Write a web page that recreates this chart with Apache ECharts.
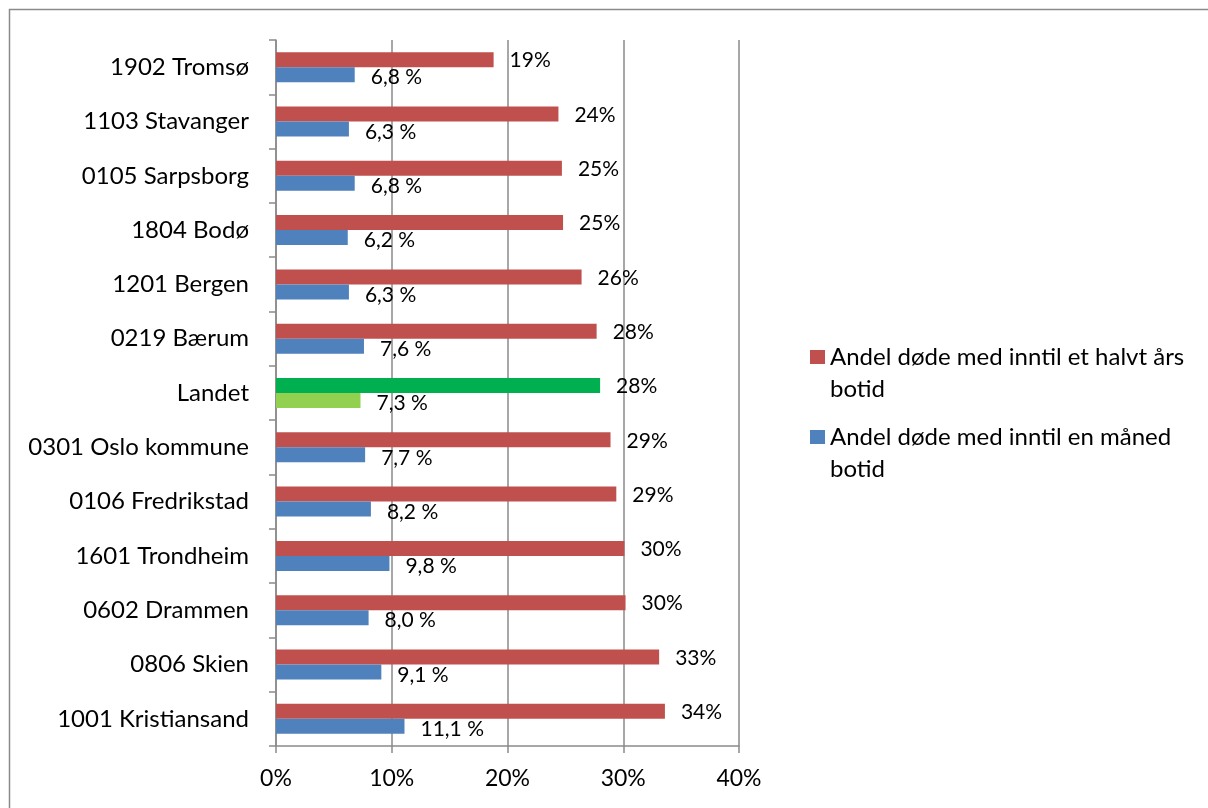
<!DOCTYPE html>
<html>
<head>
<meta charset="utf-8">
<script src="https://cdn.jsdelivr.net/npm/echarts/dist/echarts.min.js"></script>
<style>
  html, body { margin: 0; padding: 0; background: #fff; }
  #chart { width: 1208px; height: 808px; }
</style>
</head>
<body>
<div id="chart"></div>
<script>
// Municipalities, listed top to bottom
const categories = [
  '1902 Tromsø', '1103 Stavanger', '0105 Sarpsborg', '1804 Bodø',
  '1201 Bergen', '0219 Bærum', 'Landet', '0301 Oslo kommune',
  '0106 Fredrikstad', '1601 Trondheim', '0602 Drammen', '0806 Skien',
  '1001 Kristiansand'
];

// Share of deaths with up to half a year of residence (%)
const halfYearShare = [18.8, 24.4, 24.7, 24.8, 26.4, 27.7, 28.0, 28.9, 29.4, 30.1, 30.2, 33.1, 33.6];

// Share of deaths with up to one month of residence (%)
const oneMonthShare = [6.8, 6.3, 6.8, 6.2, 6.3, 7.6, 7.3, 7.7, 8.2, 9.8, 8.0, 9.1, 11.1];

const seriesNames = [
  'Andel døde med inntil et halvt års botid',
  'Andel døde med inntil en måned botid'
];

const xTicks = [0, 10, 20, 30, 40];

const RED = '#C0504D', BLUE = '#4F81BD';
const NATIONAL_DARK = '#00B050', NATIONAL_LIGHT = '#92D050';
const FONT = 'Lato';
const GRAY = '#8a8a8a';

function colored(values, base, national) {
  return values.map((v, i) => categories[i] === 'Landet'
    ? { value: v, itemStyle: { color: national } }
    : v);
}

// Square legend marker sitting in the upper part of a taller box,
// so it lines up with the first line of a wrapped legend label
const legendIcon = 'path://M0,0h15v14h-15Z M0,46 L0,46';

const chart = echarts.init(document.getElementById('chart'), null, { renderer: 'canvas' });

chart.setOption({
  animation: false,
  backgroundColor: '#fff',
  textStyle: { fontFamily: FONT, color: '#000' },
  graphic: [{
    type: 'rect',
    shape: { x: 9.5, y: 9.5, width: 1400, height: 1000 },
    style: { fill: 'none', stroke: GRAY, lineWidth: 1.5 },
    silent: true
  }],
  grid: { left: 276, right: 469, top: 40, bottom: 62, containLabel: false },
  legend: {
    orient: 'vertical',
    left: 805,
    top: 336,
    itemWidth: 15,
    itemHeight: 46,
    itemGap: 16,
    icon: legendIcon,
    data: seriesNames,
    formatter: name => name.replace(' botid', '\nbotid'),
    textStyle: { fontFamily: FONT, fontSize: 24, lineHeight: 32, color: '#000', padding: [0, 0, 0, 0] }
  },
  xAxis: {
    type: 'value',
    min: xTicks[0],
    max: xTicks[xTicks.length - 1],
    interval: 10,
    axisLine: { show: true, lineStyle: { color: GRAY, width: 1.5 } },
    axisTick: { show: true, length: 7, lineStyle: { color: GRAY, width: 1.5 } },
    splitLine: { show: true, lineStyle: { color: GRAY, width: 1.5 } },
    axisLabel: {
      formatter: v => v + '%',
      fontFamily: FONT, fontSize: 23, color: '#000', margin: 21
    }
  },
  yAxis: {
    type: 'category',
    data: categories,
    inverse: true,
    axisLine: { show: true, lineStyle: { color: GRAY, width: 1.5 } },
    axisTick: { show: true, length: 7, lineStyle: { color: GRAY, width: 1.5 } },
    axisLabel: { fontFamily: FONT, fontSize: 24, color: '#000', margin: 27 }
  },
  series: [
    {
      name: seriesNames[0],
      type: 'bar',
      data: colored(halfYearShare, RED, NATIONAL_DARK),
      itemStyle: { color: RED },
      barWidth: 15,
      barGap: '0%',
      label: {
        show: true,
        position: 'right',
        distance: 16,
        offset: [0, 1],
        formatter: p => Math.round(p.value) + '%',
        fontFamily: FONT, fontSize: 21, color: '#000'
      }
    },
    {
      name: seriesNames[1],
      type: 'bar',
      data: colored(oneMonthShare, BLUE, NATIONAL_LIGHT),
      itemStyle: { color: BLUE },
      barWidth: 15,
      barGap: '0%',
      label: {
        show: true,
        position: 'right',
        distance: 16,
        offset: [0, 3],
        formatter: p => p.value.toFixed(1).replace('.', ',') + ' %',
        fontFamily: FONT, fontSize: 21, color: '#000'
      }
    }
  ]
});
</script>
</body>
</html>
